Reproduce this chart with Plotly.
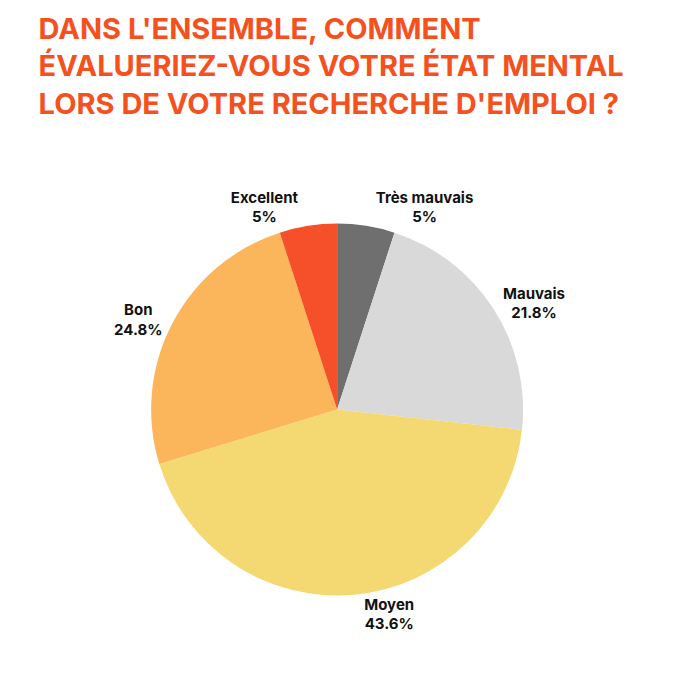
import plotly.graph_objects as go

labels = ["Très mauvais", "Mauvais", "Moyen", "Bon", "Excellent"]
values = [5, 21.8, 43.6, 24.8, 5]
colors = ["#6f6f6f", "#d9d9d9", "#f4d872", "#fbb65b", "#f5502a"]

fig = go.Figure(go.Pie(
    labels=labels,
    values=values,
    sort=False,
    direction="clockwise",
    rotation=0,
    marker=dict(colors=colors, line=dict(width=0)),
    texttemplate="<b>%{label}</b><br><b>%{value}%</b>",
    textposition="outside",
    textfont=dict(family="Inter, Lato, sans-serif", size=15, color="#111111"),
    domain=dict(x=[0.21, 0.758], y=[0.136, 0.683]),
    showlegend=False,
))

fig.update_layout(
    width=680, height=680,
    margin=dict(l=0, r=0, t=0, b=0),
    paper_bgcolor="white",
    title=dict(
        text="<b>DANS L'ENSEMBLE, COMMENT<br>ÉVALUERIEZ-VOUS VOTRE ÉTAT MENTAL<br>LORS DE VOTRE RECHERCHE D'EMPLOI ?</b>",
        x=0.045, xanchor="left", y=0.955, yanchor="top",
        font=dict(family="Inter, Lato, sans-serif", size=29, color="#f4511e"),
    ),
)

fig.write_html("out.html")
